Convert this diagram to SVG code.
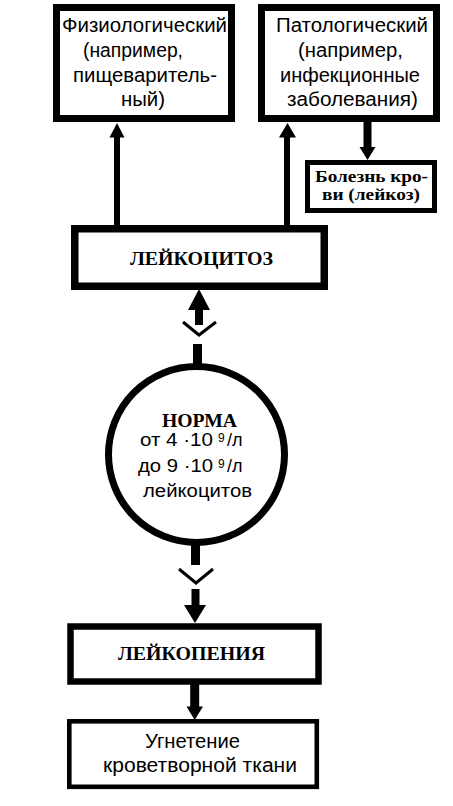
<svg xmlns="http://www.w3.org/2000/svg" width="453" height="806" viewBox="0 0 453 806">
<style>
.box{fill:#fff;stroke:#000}
.sans{font-family:"Liberation Sans",Arial,sans-serif;font-size:20px;fill:#000}
.csans{font-family:"Liberation Sans",Arial,sans-serif;font-size:18px;fill:#000}
.serif{font-family:"Liberation Serif","Times New Roman",serif;font-weight:bold;fill:#000}
.shaft{stroke:#000;fill:none}
.head{fill:#000;stroke:none}
.chev{stroke:#000;stroke-width:3;fill:none}
</style>
<rect x="0" y="0" width="453" height="806" fill="#fff"/>
<g id="connectors">
<line class="shaft" x1="117" y1="226" x2="117" y2="136" stroke-width="6"/>
<polygon class="head" points="117,123 109.5,137.5 124.5,137.5"/>
<line class="shaft" x1="287" y1="226" x2="287" y2="136" stroke-width="6"/>
<polygon class="head" points="287.5,123 279,137.5 296,137.5"/>
<line class="shaft" x1="367.5" y1="121" x2="367.5" y2="149" stroke-width="8"/>
<polygon class="head" points="359.5,147 375.5,147 367.5,160"/>
<polygon class="head" points="199,289 188,310 210,310"/>
<line class="shaft" x1="199" y1="309" x2="199" y2="325" stroke-width="8"/>
<polyline class="chev" points="183,322 199,335 216,322"/>
<line class="shaft" x1="197.5" y1="344" x2="197.5" y2="366" stroke-width="9"/>
<line class="shaft" x1="195.5" y1="544" x2="195.5" y2="565" stroke-width="9"/>
<polyline class="chev" points="179,569 196,583 213,569"/>
<line class="shaft" x1="195.5" y1="589" x2="195.5" y2="606" stroke-width="8"/>
<polygon class="head" points="184,605 206,605 195,623"/>
<line class="shaft" x1="194.7" y1="684" x2="194.7" y2="708" stroke-width="9"/>
<polygon class="head" points="186.5,706.5 203,706.5 194.7,720"/>
<circle cx="171" cy="478.5" r="0.9" fill="#000"/>
<circle cx="174.5" cy="478.5" r="0.9" fill="#000"/>
</g>
<g id="physiological">
<rect class="box" x="56.5" y="7.5" width="175" height="111" stroke-width="7"/>
<text class="sans" x="62" y="32" textLength="165" lengthAdjust="spacingAndGlyphs">Физиологический</text>
<text class="sans" x="83" y="57" textLength="100" lengthAdjust="spacingAndGlyphs">(например,</text>
<text class="sans" x="73" y="82" textLength="144" lengthAdjust="spacingAndGlyphs">пищеваритель-</text>
<text class="sans" x="121" y="106" textLength="44" lengthAdjust="spacingAndGlyphs">ный)</text>
</g>
<g id="pathological">
<rect class="box" x="261.5" y="7.5" width="175" height="111" stroke-width="7"/>
<text class="sans" x="276" y="32" textLength="152" lengthAdjust="spacingAndGlyphs">Патологический</text>
<text class="sans" x="298" y="57" textLength="105" lengthAdjust="spacingAndGlyphs">(например,</text>
<text class="sans" x="280" y="82" textLength="140" lengthAdjust="spacingAndGlyphs">инфекционные</text>
<text class="sans" x="287" y="106" textLength="131" lengthAdjust="spacingAndGlyphs">заболевания)</text>
</g>
<g id="leukosis">
<rect class="box" x="307.5" y="162.5" width="127" height="48" stroke-width="5"/>
<text class="serif" x="315" y="182" font-size="16" textLength="113" lengthAdjust="spacingAndGlyphs">Болезнь кро-</text>
<text class="serif" x="322" y="200" font-size="16" textLength="98" lengthAdjust="spacingAndGlyphs">ви (лейкоз)</text>
</g>
<g id="leukocytosis">
<rect class="box" x="74.75" y="228.75" width="249.5" height="57.5" stroke-width="7.5"/>
<text class="serif" x="130" y="265" font-size="19" textLength="143" lengthAdjust="spacingAndGlyphs">ЛЕЙКОЦИТОЗ</text>
</g>
<g id="norm">
<circle cx="196.5" cy="454.5" r="88" fill="#fff" stroke="#000" stroke-width="7"/>
<text class="serif" x="162" y="427" font-size="19" textLength="75" lengthAdjust="spacingAndGlyphs">НОРМА</text>
<text class="csans"><tspan x="140" y="446" textLength="73" lengthAdjust="spacingAndGlyphs">от 4 ·10</tspan><tspan x="218" y="442" font-size="12">9</tspan><tspan x="227" y="446">/л</tspan></text>
<text class="csans"><tspan x="138" y="472" textLength="75" lengthAdjust="spacingAndGlyphs">до 9 ·10</tspan><tspan x="218" y="468" font-size="12">9</tspan><tspan x="227" y="472">/л</tspan></text>
<text class="csans" x="143" y="497" textLength="109" lengthAdjust="spacingAndGlyphs">лейкоцитов</text>
</g>
<g id="leukopenia">
<rect class="box" x="70.5" y="626.5" width="248" height="55" stroke-width="6.5"/>
<text class="serif" x="118" y="660" font-size="19" textLength="147" lengthAdjust="spacingAndGlyphs">ЛЕЙКОПЕНИЯ</text>
</g>
<g id="suppression">
<rect class="box" x="69.3" y="721.3" width="247.5" height="65.5" stroke-width="4.6"/>
<text class="sans" x="145" y="748" textLength="95" lengthAdjust="spacingAndGlyphs">Угнетение</text>
<text class="sans" x="103" y="772" textLength="194" lengthAdjust="spacingAndGlyphs">кроветворной  ткани</text>
</g>
</svg>
